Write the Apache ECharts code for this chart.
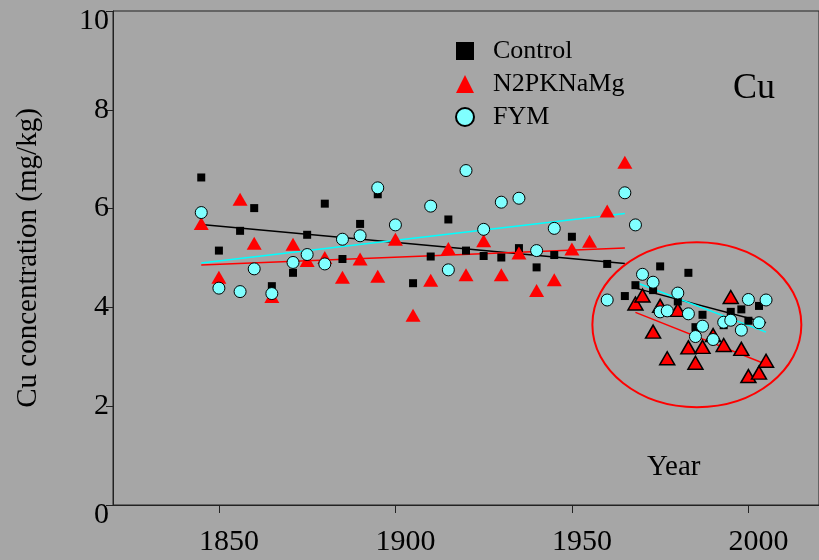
<!DOCTYPE html>
<html lang="en" style="height: 100%">
<head>
    <meta charset="UTF-8">
    <title>Cu concentration</title>
    <script src="https://cdn.jsdelivr.net/npm/echarts@6/dist/echarts.min.js"></script>
</head>
<body style="height: 100%; margin: 0">
<div id="main" style="width: 819px; height: 560px"></div>
<script>
    // values: [year, mg/kg]
    var controlData = [
        [1845, 6.63], [1850, 5.15], [1856, 5.55], [1860, 6.01], [1865, 4.43], [1871, 4.70],
        [1875, 5.47], [1880, 6.10], [1885, 4.98], [1890, 5.69], [1895, 6.29], [1905, 4.49],
        [1910, 5.03], [1915, 5.78], [1920, 5.15], [1925, 5.04], [1930, 5.01], [1935, 5.20],
        [1940, 4.81], [1945, 5.06], [1950, 5.43], [1960, 4.88], [1965, 4.23], [1968, 4.45],
        [1973, 4.35], [1975, 4.83], [1980, 4.12], [1983, 4.70], [1985, 3.60], [1987, 3.85],
        [1993, 3.64], [1995, 3.91], [1998, 3.96], [2000, 3.73], [2003, 4.03]
    ];
    var n2Early = [
        [1845, 5.70], [1850, 4.61], [1856, 6.19], [1860, 5.30], [1865, 4.22], [1871, 5.28],
        [1875, 4.95], [1880, 5.01], [1885, 4.61], [1890, 4.98], [1895, 4.63], [1900, 5.38],
        [1905, 3.84], [1910, 4.55], [1915, 5.19], [1920, 4.66], [1925, 5.35], [1930, 4.66],
        [1935, 5.10], [1940, 4.34], [1945, 4.56], [1950, 5.18], [1955, 5.34], [1960, 5.95],
        [1965, 6.94]
    ];
    var n2Late = [
        [1968, 4.08], [1970, 4.24], [1973, 3.51], [1975, 4.03], [1977, 2.97], [1980, 3.95],
        [1983, 3.19], [1985, 2.88], [1987, 3.20], [1990, 3.44], [1993, 3.24], [1995, 4.21],
        [1998, 3.16], [2000, 2.61], [2003, 2.68], [2005, 2.92]
    ];
    var fymData = [
        [1845, 5.92], [1850, 4.39], [1856, 4.32], [1860, 4.78], [1865, 4.28], [1871, 4.91],
        [1875, 5.07], [1880, 4.88], [1885, 5.38], [1890, 5.45], [1895, 6.42], [1900, 5.67],
        [1910, 6.05], [1915, 4.76], [1920, 6.77], [1925, 5.58], [1930, 6.13], [1935, 6.21],
        [1940, 5.15], [1945, 5.60], [1960, 4.15], [1965, 6.32], [1968, 5.67], [1970, 4.67],
        [1973, 4.51], [1975, 3.91], [1977, 3.93], [1980, 4.29], [1983, 3.87], [1985, 3.41],
        [1987, 3.62], [1990, 3.35], [1993, 3.70], [1995, 3.74], [1998, 3.54], [2000, 4.16],
        [2003, 3.69], [2005, 4.15]
    ];
    // fitted lines, two ends each
    var controlFitEarly = [[1845, 5.68], [1965, 4.89]];
    var n2FitEarly = [[1845, 4.86], [1965, 5.20]];
    var fymFitEarly = [[1845, 4.90], [1965, 5.90]];
    var controlFitLate = [[1968, 4.39], [2005, 3.69]];
    var n2FitLate = [[1968, 3.90], [2005, 2.85]];
    var fymFitLate = [[1968, 4.51], [2005, 3.50]];

    var yearTicks = [1850, 1900, 1950, 2000];
    var legendNames = ['Control', 'N2PKNaMg', 'FYM'];

    var serif = 'Liberation Serif';

    function fitLine(name, data, color) {
        return {
            name: name, type: 'line', data: data, symbol: 'none', z: 1,
            lineStyle: {color: color, width: 1.5}
        };
    }

    var myoption = {
        animation: false,
        backgroundColor: '#a6a6a6',
        textStyle: {fontFamily: serif},
        grid: {
            left: 113, top: 11, bottom: 55, right: -3,
            show: true, borderColor: '#222', borderWidth: 1
        },
        legend: {
            orient: 'vertical',
            left: 450, top: 33,
            itemWidth: 18, itemHeight: 18, itemGap: 7,
            data: [
                {name: legendNames[0], icon: 'rect'},
                {name: legendNames[1], icon: 'triangle'},
                {name: legendNames[2], icon: 'circle'}
            ],
            textStyle: {fontFamily: serif, fontSize: 26, color: '#000', padding: [0, 0, 0, 14]}
        },
        xAxis: {
            type: 'value', min: 1820, max: 2020,
            splitLine: {show: false},
            axisLine: {lineStyle: {color: '#222'}},
            axisTick: {customValues: yearTicks, length: 8, lineStyle: {color: '#222'}},
            axisLabel: {
                customValues: yearTicks, margin: 22, color: '#000',
                fontFamily: serif, fontSize: 30, padding: [0, 0, 0, 20],
                formatter: function (v) { return String(v); }
            }
        },
        yAxis: {
            type: 'value', min: 0, max: 10, interval: 2,
            splitLine: {show: false},
            axisLine: {show: true, lineStyle: {color: '#222'}},
            axisTick: {length: 7, lineStyle: {color: '#222'}},
            axisLabel: {
                margin: 4, color: '#000', fontFamily: serif, fontSize: 30,
                // 0 and 10 sit just below their ticks in the original
                formatter: function (v) {
                    return (v === 0 || v === 10) ? '{edge|' + v + '}' : '{n|' + v + '}';
                },
                rich: {
                    n: {color: '#000', fontFamily: serif, fontSize: 30},
                    edge: {padding: [20, 0, 0, 0], color: '#000', fontFamily: serif, fontSize: 30}
                }
            },
            name: 'Cu concentration (mg/kg)',
            nameLocation: 'middle', nameGap: 70,
            nameTextStyle: {color: '#000', fontFamily: serif, fontSize: 29}
        },
        series: [
            fitLine('fit1', controlFitEarly, '#000'),
            fitLine('fit2', n2FitEarly, '#ff0000'),
            fitLine('fit3', fymFitEarly, '#00ffff'),
            fitLine('fit4', controlFitLate, '#000'),
            fitLine('fit5', n2FitLate, '#ff0000'),
            fitLine('fit6', fymFitLate, '#00ffff'),
            {
                name: 'Control', type: 'scatter', symbol: 'rect', symbolSize: 8, z: 2,
                itemStyle: {color: '#000', opacity: 1},
                data: controlData
            },
            {
                name: 'N2PKNaMg', type: 'scatter', symbol: 'triangle', symbolSize: [15, 13], z: 3,
                itemStyle: {color: '#ff0000', opacity: 1},
                data: n2Early
            },
            {
                name: 'N2PKNaMg', type: 'scatter', symbol: 'triangle', symbolSize: [15, 13], z: 3,
                itemStyle: {color: '#ff0000', borderColor: '#000', borderWidth: 1.5, opacity: 1},
                data: n2Late
            },
            {
                name: 'FYM', type: 'scatter', symbol: 'circle', symbolSize: 12, z: 4,
                itemStyle: {color: '#80ffff', borderColor: '#000', borderWidth: 1, opacity: 1},
                data: fymData
            }
        ]
    };

    var myChart = echarts.init(document.getElementById('main'));
    myChart.setOption(myoption);

    // red ring round the recent samples, given in data units
    var ring = {year: 1985.4, value: 3.65, dYear: 29.6, dValue: 1.67};
    var c = myChart.convertToPixel({gridIndex: 0}, [ring.year, ring.value]);
    var e = myChart.convertToPixel({gridIndex: 0}, [ring.year + ring.dYear, ring.value + ring.dValue]);
    myChart.setOption({
        graphic: [
            {
                type: 'ellipse', z: 5, silent: true,
                shape: {cx: c[0], cy: c[1], rx: e[0] - c[0], ry: c[1] - e[1]},
                style: {fill: 'none', stroke: '#ff0000', lineWidth: 2}
            },
            {
                type: 'text', left: 733, top: 71, z: 6,
                style: {text: 'Cu', font: '36px "Liberation Serif"', fill: '#000'}
            },
            {
                type: 'text', left: 647, top: 453, z: 6,
                style: {text: 'Year', font: '29px "Liberation Serif"', fill: '#000'}
            }
        ]
    });
</script>
</body>
</html>
